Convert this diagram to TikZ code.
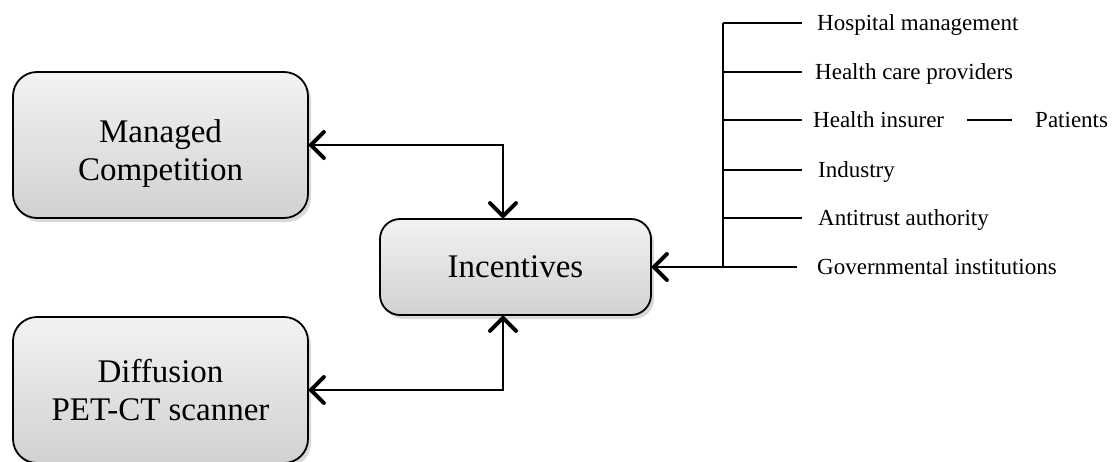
\documentclass[tikz,border=0pt]{standalone}
\usepackage{fontspec}
\setmainfont{Liberation Serif}
\usetikzlibrary{arrows.meta,shadows}
\begin{document}
\begin{tikzpicture}[x=1pt,y=-1pt,
  bigbox/.style={draw=black, line width=1.8pt, rounded corners=24pt,
    top color=gray!10, bottom color=gray!36,
    drop shadow={shadow xshift=3pt, shadow yshift=-4pt, opacity=0.3},
    align=center, font=\fontsize{33}{38}\selectfont, inner sep=0pt},
  lbl/.style={font=\fontsize{23}{27}\selectfont, text height=14pt, text depth=0pt, inner ysep=0pt, anchor=west},
  link/.style={line width=1.8pt},
  barb/.tip={Straight Barb[length=13pt,width=26pt,line width=4pt,round]},
  biarr/.style={link, barb-barb},
  toarr/.style={link, -barb}]
\useasboundingbox (0,0) rectangle (1116,461);
\node[bigbox, minimum width=295pt, minimum height=146pt] (mc) at (160.5,145) {\rule{0pt}{40pt}Managed\\Competition};
\node[bigbox, minimum width=295pt, minimum height=146pt] (df) at (160.5,390) {Diffusion\\PET-CT scanner};
\node[bigbox, rounded corners=20pt, minimum width=271pt, minimum height=96pt] (inc) at (515.5,267) {Incentives};
\coordinate (incT) at ([xshift=-12.5pt]inc.north);
\coordinate (incB) at ([xshift=-12.5pt]inc.south);
\draw[biarr] (mc.east) -| (incT);
\draw[biarr] (df.east) -| (incB);
% right side
\node[lbl, inner xsep=15pt] (h1) at (802,23) {Hospital management};
\node[lbl, inner xsep=13pt] (h2) at (802,72) {Health care providers};
\node[lbl, inner xsep=11pt] (h3) at (802,120) {Health insurer};
\node[lbl, inner xsep=16pt] (h4) at (802,170) {Industry};
\node[lbl, inner xsep=16pt] (h5) at (802,218) {Antitrust authority};
\node[lbl, inner xsep=20pt] (h6) at (797,267) {Governmental institutions};
\node[lbl, inner xsep=23pt] (pat) at (1012,120) {Patients};
\coordinate (s1) at (723,23);
\coordinate (s2) at (723,72);
\coordinate (s3) at (723,120);
\coordinate (s4) at (723,170);
\coordinate (s5) at (723,218);
\coordinate (s6) at (723,267);
\draw[toarr] (h6.west) -- (inc.east);
\draw[link] (s6) -- (s1);
\draw[link] (s1) -- (h1.west);
\draw[link] (s2) -- (h2.west);
\draw[link] (s3) -- (h3.west);
\draw[link] (s4) -- (h4.west);
\draw[link] (s5) -- (h5.west);
\draw[link] ([xshift=12pt]h3.east) -- (pat.west);
\end{tikzpicture}
\end{document}
